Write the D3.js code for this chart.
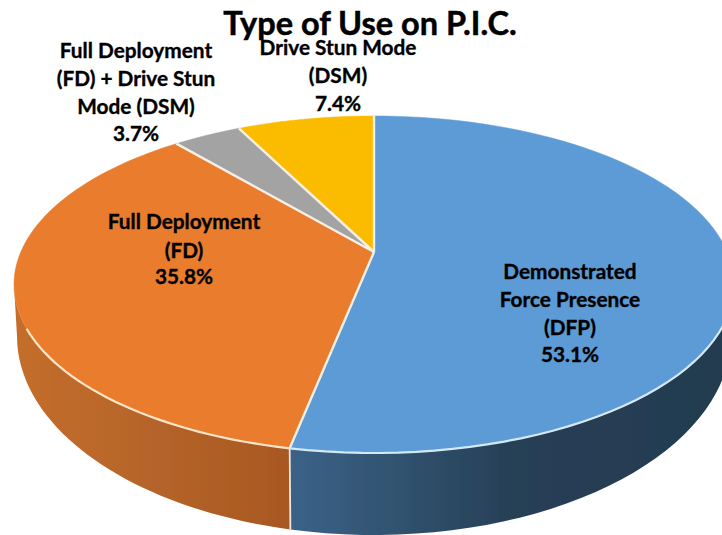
<!DOCTYPE html>
<html><head><meta charset="utf-8">
<script src="https://cdn.jsdelivr.net/npm/d3@7/dist/d3.min.js"></script>
<style>html,body{margin:0;padding:0;background:#fff}svg{display:block}text{font-family:Lato,"Noto Sans",sans-serif;font-weight:700;fill:#000;stroke:#000;text-anchor:middle}</style>
</head><body><script>
const categories = ["Demonstrated Force Presence (DFP)", "Full Deployment (FD)", "Full Deployment (FD) + Drive Stun Mode (DSM)", "Drive Stun Mode (DSM)"];
const shares = [53.1, 35.8, 3.7, 7.4];
const topColors = ["#5b9bd5", "#ea7b2e", "#a3a3a3", "#fbbc05"];
const rimColors = ["#d5e8f5", "#fde6c8", "#e8e8e8", "#fdf0c0"];
const wallStops = [
  [["0%", "#3c6288"], ["25%", "#30526f"], ["50%", "#273f56"], ["100%", "#233b4f"]],
  [["0%", "#c46e2c"], ["50%", "#b5642a"], ["100%", "#a85820"]]
];
const labelLines = [
  ["Demonstrated", "Force Presence", "(DFP)", "53.1%"],
  ["Full Deployment", "(FD)", "35.8%"],
  ["Full Deployment", "(FD) + Drive Stun", "Mode (DSM)", "3.7%"],
  ["Drive Stun Mode", "(DSM)", "7.4%"]
];
const labelAnchors = [[570, [279, 307, 335, 362]], [184, [229, 258, 284]], [136, [58, 86, 114, 141]], [338, [55, 83, 111]]];
const titleText = "Type of Use on P.I.C.";

const W = 722, H = 535;
const top3d = {cx: 374, cy: 284.5, rx: 360, ry: 168.5};
const bot3d = {cx: 374, cy: 336, rx: 357, ry: 199};
const k = -32.5 / 168.5;
const proj = a => {
  const u = Math.sin(a), v = -Math.cos(a), d = 1 + k * v;
  return [top3d.cx + top3d.rx * Math.sqrt(1 - k * k) * u / d, top3d.cy + top3d.ry * (v + k) / d];
};
const ellipseT = a => {
  const [x, y] = proj(a);
  return Math.atan2((y - top3d.cy) / top3d.ry, (x - top3d.cx) / top3d.rx);
};
const onE = (e, t) => [e.cx + e.rx * Math.cos(t), e.cy + e.ry * Math.sin(t)];
const centre = [top3d.cx, top3d.cy + top3d.ry * k];

const svg = d3.select("body").append("svg").attr("width", W).attr("height", H);
const defs = svg.append("defs");
const f = defs.append("filter").attr("id", "soft").attr("x", "-5%").attr("y", "-5%").attr("width", "110%").attr("height", "110%");
f.append("feGaussianBlur").attr("stdDeviation", 0.5);
const line = d3.line();
const arcs = d3.pie().sort(null).value(d => d)(shares);
const steps = a => d3.range(0, 81).map(i => a.startAngle + (a.endAngle - a.startAngle) * i / 80);

const g = svg.append("g").attr("filter", "url(#soft)");

arcs.slice(0, 2).forEach((a, i) => {
  const ts = steps(a).map(ellipseT).map(t => t < -Math.PI / 2 ? t + 2 * Math.PI : t).filter(t => t >= 0 && t <= Math.PI);
  const grad = defs.append("linearGradient").attr("id", "wall" + i).attr("gradientUnits", "userSpaceOnUse");
  const xs = ts.map(t => onE(top3d, t)[0]);
  grad.attr("x1", d3.min(xs)).attr("x2", d3.max(xs)).attr("y1", 0).attr("y2", 0);
  wallStops[i].forEach(s => grad.append("stop").attr("offset", s[0]).attr("stop-color", s[1]));
  const pts = ts.map(t => onE(top3d, t)).concat(ts.slice().reverse().map(t => onE(bot3d, t)));
  g.append("path").attr("d", line(pts) + "Z").attr("fill", `url(#wall${i})`);
});
const seamT = ellipseT(arcs[0].endAngle);
g.append("path").attr("d", line([onE(top3d, seamT), onE(bot3d, seamT)])).attr("stroke", "#e8e8e8").attr("stroke-width", 1.8).attr("fill", "none");

arcs.forEach((a, i) => {
  const pts = [centre].concat(steps(a).map(proj));
  g.append("path").attr("d", line(pts) + "Z").attr("fill", topColors[i])
    .attr("stroke", topColors[i]).attr("stroke-width", 0.5);
});
arcs.forEach(a => {
  g.append("path").attr("d", line([centre, proj(a.startAngle)])).attr("stroke", "#f6f0e6").attr("stroke-width", 2.4).attr("fill", "none");
});
arcs.slice(0, 2).forEach((a, i) => {
  const pts = steps(a).filter(x => { const t = ellipseT(x); return t >= 0.06 && t <= Math.PI - 0.25; }).map(proj);
  g.append("path").attr("d", line(pts)).attr("stroke", rimColors[i]).attr("stroke-width", 2.2).attr("fill", "none");
});

labelLines.forEach((lines, i) => {
  const [x, ys] = labelAnchors[i];
  lines.forEach((t, j) => svg.append("text").attr("x", x).attr("y", ys[j]).attr("font-size", 20.8).attr("stroke-width", 0.35).text(t));
});
svg.append("text").attr("x", 370).attr("y", 35).attr("font-size", 32.5).attr("stroke-width", 0.5).text(titleText);
</script></body></html>
